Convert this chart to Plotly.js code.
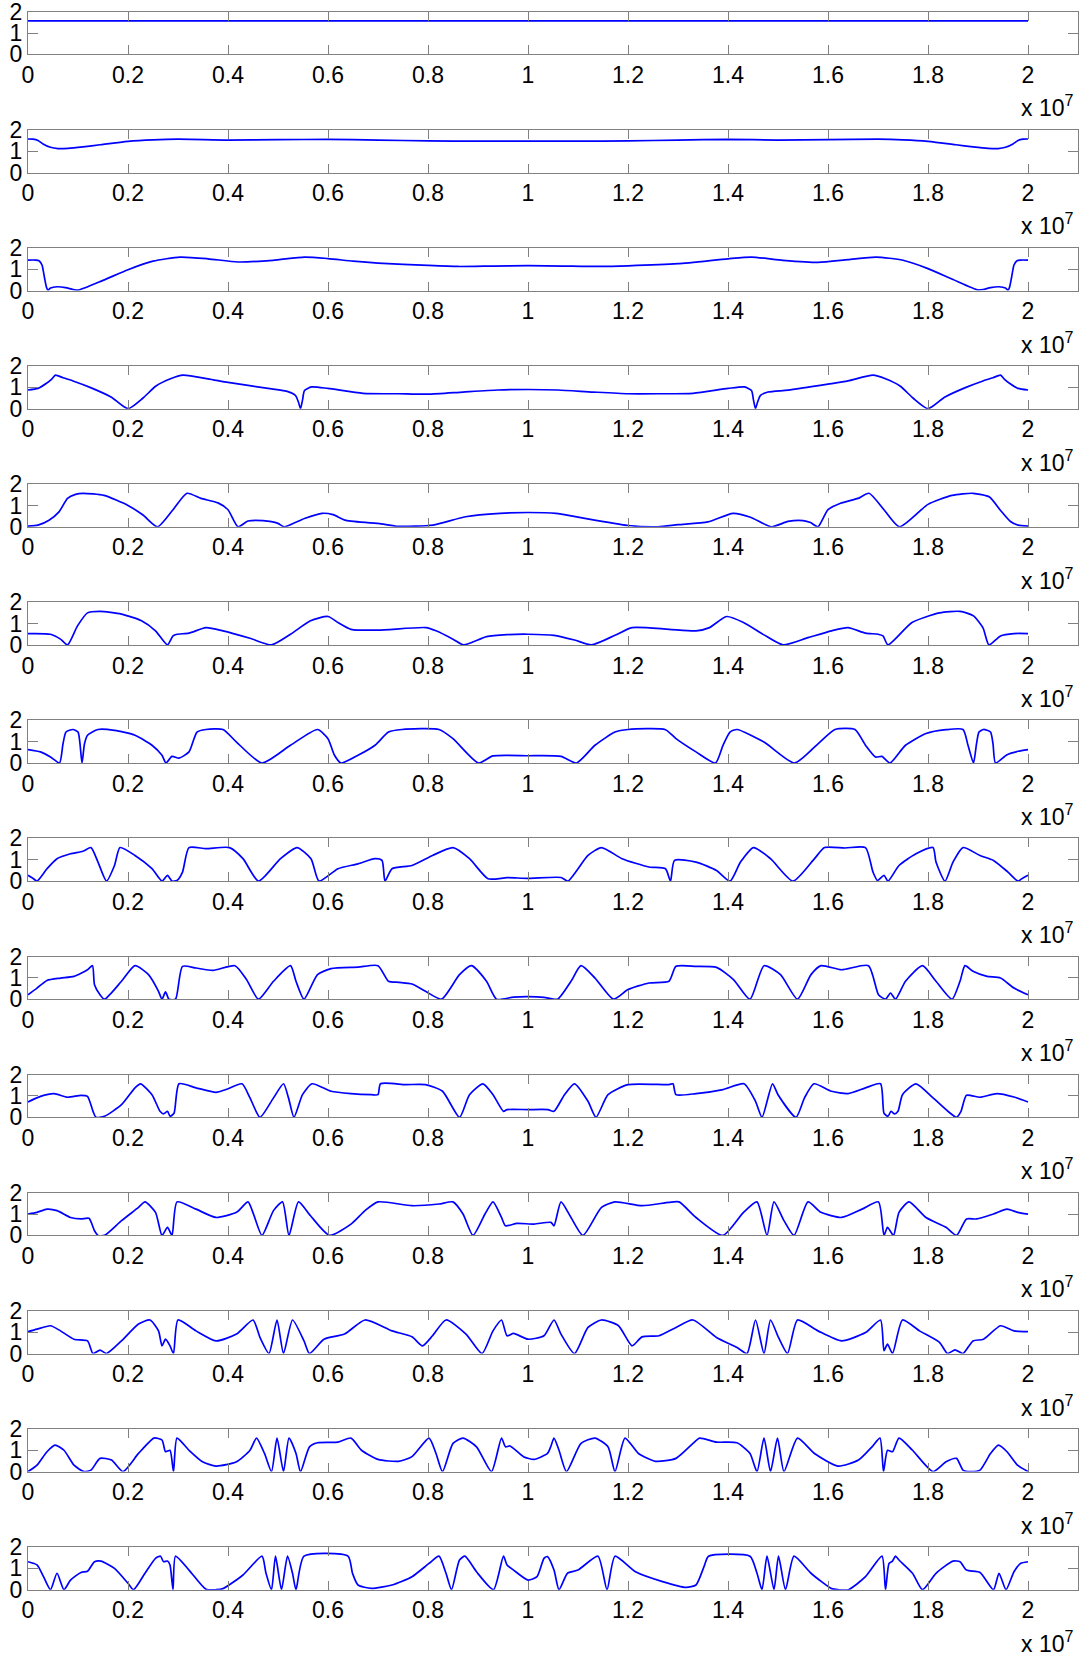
<!DOCTYPE html>
<html>
<head>
<meta charset="utf-8">
<script src="https://cdn.plot.ly/plotly-3.0.1.min.js"></script>
<style>html,body{margin:0;padding:0;background:#fff;}#chart{width:1086px;height:1659px;}</style>
</head>
<body>
<div id="chart"></div>
<script>
// x values in units of 1e7 (axis label "x 10^7"), y values
const xTickVals = [0, 0.2, 0.4, 0.6, 0.8, 1, 1.2, 1.4, 1.6, 1.8, 2];
const xTickText = ["0", "0.2", "0.4", "0.6", "0.8", "1", "1.2", "1.4", "1.6", "1.8", "2"];
const yTickVals = [0, 1, 2];
const yTickText = ["0", "1", "2"];
const xExponentLabel = "x 10<sup>7</sup>";

const panel1 = [[0,1.57],[0.5,1.57],[1.0,1.57],[1.5,1.57],[2.0,1.57]];

const panel2 = [[0,1.57],[0.01,1.56],[0.02,1.50],[0.03,1.34],[0.045,1.18],[0.06,1.12],[0.08,1.13],[0.11,1.20],[0.144,1.30],[0.2,1.46],[0.25,1.53],[0.3,1.56],[0.4,1.52],[0.5,1.54],[0.6,1.55],[0.7,1.52],[0.8,1.48],[0.9,1.47],[1.0,1.47],[1.1,1.47],[1.2,1.48],[1.3,1.52],[1.4,1.55],[1.5,1.52],[1.6,1.54],[1.7,1.56],[1.75,1.53],[1.8,1.46],[1.856,1.30],[1.89,1.20],[1.92,1.13],[1.94,1.12],[1.955,1.18],[1.97,1.34],[1.98,1.50],[1.99,1.56],[2.0,1.57]];

const panel3 = [[0,1.43],[0.015,1.43],[0.022,1.40],[0.028,1.20],[0.033,0.6],[0.037,0.15],[0.04,0.02],[0.045,0.12],[0.058,0.18],[0.075,0.14],[0.09,0.05],[0.1,0.02],[0.15,0.48],[0.2,0.98],[0.25,1.38],[0.304,1.57],[0.36,1.49],[0.42,1.34],[0.49,1.42],[0.553,1.57],[0.6,1.50],[0.65,1.38],[0.7,1.29],[0.8,1.18],[0.86,1.13],[0.93,1.15],[1.0,1.17],[1.07,1.15],[1.14,1.13],[1.2,1.16],[1.3,1.26],[1.4,1.49],[1.447,1.57],[1.51,1.42],[1.58,1.32],[1.64,1.45],[1.696,1.57],[1.75,1.42],[1.8,1.03],[1.85,0.52],[1.9,0.03],[1.91,0.05],[1.925,0.14],[1.942,0.18],[1.955,0.12],[1.96,0.02],[1.963,0.15],[1.967,0.6],[1.972,1.20],[1.978,1.40],[1.985,1.43],[2.0,1.43]];

const panel4 = [[0,0.875],[0.02,0.95],[0.037,1.19],[0.048,1.40],[0.055,1.57],[0.07,1.45],[0.09,1.30],[0.124,1.0],[0.166,0.55],[0.2,0],[0.23,0.5],[0.256,1.06],[0.285,1.40],[0.31,1.57],[0.36,1.40],[0.40,1.23],[0.48,0.95],[0.52,0.80],[0.535,0.62],[0.541,0.3],[0.545,0],[0.549,0.4],[0.553,0.85],[0.567,1.02],[0.6,0.95],[0.67,0.72],[0.74,0.70],[0.80,0.68],[0.87,0.78],[0.94,0.875],[1.0,0.9],[1.06,0.875],[1.13,0.78],[1.2,0.70],[1.26,0.70],[1.33,0.72],[1.40,0.95],[1.433,1.02],[1.447,0.85],[1.451,0.4],[1.455,0],[1.459,0.3],[1.465,0.62],[1.48,0.78],[1.52,0.87],[1.6,1.15],[1.64,1.30],[1.69,1.57],[1.715,1.40],[1.744,1.06],[1.77,0.5],[1.8,0],[1.834,0.55],[1.876,1.0],[1.91,1.30],[1.93,1.45],[1.945,1.57],[1.952,1.40],[1.963,1.19],[1.98,0.95],[2.0,0.875]];

const panel5 = [[0,0.03],[0.02,0.08],[0.042,0.31],[0.062,0.7],[0.079,1.33],[0.095,1.52],[0.11,1.57],[0.152,1.47],[0.2,1.0],[0.23,0.55],[0.259,0],[0.29,0.8],[0.318,1.57],[0.346,1.33],[0.38,1.12],[0.40,0.8],[0.42,0],[0.44,0.27],[0.47,0.29],[0.5,0.16],[0.512,0],[0.553,0.39],[0.588,0.63],[0.61,0.57],[0.636,0.3],[0.706,0.14],[0.74,0.02],[0.81,0.08],[0.875,0.47],[0.944,0.63],[1.0,0.67],[1.056,0.63],[1.1,0.45],[1.2,0.06],[1.26,0],[1.3,0.1],[1.36,0.23],[1.41,0.63],[1.445,0.45],[1.487,0],[1.52,0.25],[1.55,0.29],[1.565,0.2],[1.58,0],[1.6,0.8],[1.625,1.1],[1.66,1.33],[1.682,1.57],[1.712,0.8],[1.743,0],[1.8,1.05],[1.848,1.47],[1.89,1.57],[1.923,1.4],[1.944,0.8],[1.965,0.25],[1.98,0.08],[2.0,0.03]];

const panel6 = [[0,0.53],[0.045,0.5],[0.065,0.27],[0.079,0],[0.099,0.89],[0.119,1.5],[0.144,1.57],[0.187,1.44],[0.227,1.13],[0.255,0.66],[0.279,0],[0.29,0.42],[0.298,0.5],[0.322,0.55],[0.356,0.81],[0.39,0.66],[0.444,0.31],[0.487,0],[0.525,0.5],[0.565,1.13],[0.6,1.33],[0.62,1.05],[0.646,0.73],[0.7,0.69],[0.796,0.81],[0.816,0.66],[0.85,0.27],[0.871,0],[0.917,0.39],[0.958,0.48],[1.0,0.5],[1.052,0.45],[1.093,0.23],[1.127,0],[1.174,0.45],[1.208,0.81],[1.282,0.73],[1.336,0.66],[1.363,0.81],[1.397,1.33],[1.431,1.05],[1.472,0.47],[1.51,0],[1.56,0.34],[1.607,0.66],[1.64,0.81],[1.675,0.55],[1.7,0.5],[1.71,0.42],[1.72,0],[1.768,1.05],[1.823,1.5],[1.864,1.57],[1.891,1.36],[1.91,0.8],[1.922,0],[1.945,0.42],[1.972,0.53],[2.0,0.53]];

const panel7 = [[0,0.63],[0.025,0.52],[0.045,0.28],[0.063,0],[0.07,0.9],[0.076,1.45],[0.09,1.57],[0.1,1.45],[0.104,0.9],[0.108,0],[0.113,0.9],[0.119,1.3],[0.14,1.57],[0.173,1.53],[0.214,1.3],[0.248,0.83],[0.268,0.36],[0.276,0],[0.288,0.31],[0.302,0.23],[0.322,0.52],[0.338,1.45],[0.356,1.57],[0.39,1.57],[0.417,0.98],[0.468,0],[0.525,0.83],[0.579,1.57],[0.6,1.14],[0.613,0.36],[0.626,0],[0.66,0.36],[0.694,0.83],[0.721,1.45],[0.748,1.57],[0.822,1.57],[0.85,1.14],[0.901,0],[0.93,0.33],[1.0,0.34],[1.066,0.31],[1.097,0],[1.134,0.83],[1.174,1.45],[1.2,1.57],[1.275,1.56],[1.296,1.14],[1.336,0.52],[1.375,0],[1.39,0.83],[1.404,1.45],[1.418,1.57],[1.472,0.98],[1.533,0],[1.58,0.9],[1.614,1.57],[1.654,1.57],[1.675,0.83],[1.695,0.28],[1.708,0.31],[1.724,0],[1.755,0.83],[1.796,1.38],[1.836,1.56],[1.87,1.57],[1.88,0.83],[1.891,0],[1.897,0.9],[1.902,1.45],[1.911,1.57],[1.925,1.45],[1.93,0.9],[1.935,0],[1.958,0.39],[1.98,0.55],[2.0,0.63]];

const panel8 = [[0,0.27],[0.011,0.11],[0.018,0],[0.038,0.58],[0.058,1.05],[0.085,1.28],[0.11,1.4],[0.126,1.57],[0.14,0.89],[0.157,0],[0.173,0.73],[0.184,1.57],[0.214,1.2],[0.248,0.58],[0.268,0],[0.279,0.27],[0.288,0],[0.298,0.03],[0.309,0.42],[0.322,1.57],[0.356,1.52],[0.403,1.57],[0.43,1.05],[0.461,0],[0.505,1.05],[0.538,1.57],[0.566,1.05],[0.582,0],[0.62,0.58],[0.66,0.81],[0.694,1.05],[0.708,0.97],[0.714,0],[0.728,0.58],[0.768,0.73],[0.809,1.2],[0.85,1.57],[0.883,1.05],[0.92,0.11],[0.958,0.16],[1.0,0.13],[1.066,0.17],[1.08,0],[1.12,1.2],[1.147,1.57],[1.188,1.05],[1.242,0.66],[1.275,0.58],[1.285,0],[1.293,0.97],[1.336,0.89],[1.377,0.5],[1.404,0],[1.425,0.89],[1.451,1.57],[1.485,1.05],[1.53,0],[1.573,1.05],[1.593,1.57],[1.634,1.55],[1.675,1.57],[1.69,0.42],[1.699,0.03],[1.712,0.27],[1.72,0],[1.742,0.73],[1.776,1.28],[1.81,1.57],[1.816,0.89],[1.834,0],[1.85,0.89],[1.87,1.57],[1.904,1.2],[1.931,0.97],[1.96,0.42],[1.98,0],[1.99,0.15],[2.0,0.27]];

const panel9 = [[0,0.21],[0.018,0.52],[0.038,0.88],[0.065,0.99],[0.092,1.07],[0.119,1.38],[0.129,1.57],[0.133,0.68],[0.144,0.21],[0.153,0],[0.187,0.84],[0.214,1.57],[0.241,1.15],[0.261,0.37],[0.268,0],[0.275,0.34],[0.282,0],[0.295,0],[0.309,1.54],[0.336,1.46],[0.37,1.35],[0.414,1.57],[0.437,0.92],[0.461,0],[0.491,0.84],[0.525,1.57],[0.536,0.84],[0.552,0],[0.579,1.15],[0.606,1.43],[0.66,1.5],[0.7,1.57],[0.721,0.84],[0.742,0.79],[0.768,0.71],[0.795,0.37],[0.827,0],[0.863,1.15],[0.887,1.57],[0.917,0.84],[0.937,0],[0.971,0.1],[1.0,0.12],[1.032,0.09],[1.059,0],[1.086,0.84],[1.106,1.57],[1.134,0.99],[1.171,0],[1.2,0.45],[1.242,0.76],[1.282,0.84],[1.296,1.54],[1.336,1.54],[1.377,1.49],[1.411,0.92],[1.444,0],[1.472,1.57],[1.505,1.15],[1.539,0],[1.566,1.15],[1.586,1.57],[1.627,1.38],[1.681,1.57],[1.701,0.21],[1.715,0],[1.725,0.29],[1.735,0],[1.755,0.84],[1.789,1.57],[1.816,0.84],[1.848,0],[1.864,0.84],[1.874,1.57],[1.89,1.31],[1.918,1.07],[1.945,0.99],[1.972,0.52],[2.0,0.21]];

const panel10 = [[0,0.72],[0.025,0.98],[0.052,1.11],[0.079,0.94],[0.106,1.03],[0.119,0.98],[0.13,0.28],[0.136,0],[0.153,0.05],[0.187,0.59],[0.214,1.38],[0.225,1.57],[0.248,1.06],[0.264,0.28],[0.271,0.16],[0.279,0.28],[0.284,0.05],[0.292,0.19],[0.302,1.57],[0.336,1.38],[0.376,1.17],[0.396,1.3],[0.428,1.57],[0.444,0.91],[0.464,0],[0.491,0.91],[0.511,1.57],[0.521,0.91],[0.532,0],[0.549,1.06],[0.568,1.57],[0.606,1.22],[0.646,1.11],[0.687,1.06],[0.7,1.06],[0.705,1.57],[0.755,1.53],[0.795,1.53],[0.829,1.22],[0.863,0],[0.883,1.06],[0.91,1.57],[0.93,1.06],[0.951,0.28],[0.958,0.36],[1.0,0.36],[1.04,0.36],[1.052,0.28],[1.073,1.06],[1.093,1.57],[1.12,0.75],[1.136,0],[1.16,1.06],[1.2,1.53],[1.282,1.53],[1.29,1.57],[1.296,1.06],[1.336,1.11],[1.39,1.3],[1.432,1.57],[1.455,0.75],[1.468,0],[1.489,1.57],[1.5,1.06],[1.536,0],[1.553,0.91],[1.572,1.57],[1.607,1.22],[1.64,1.11],[1.675,1.38],[1.705,1.57],[1.712,0.19],[1.72,0.05],[1.726,0.28],[1.733,0.16],[1.74,0.28],[1.749,1.06],[1.776,1.57],[1.81,0.91],[1.844,0.2],[1.857,0],[1.866,0.28],[1.877,1.03],[1.904,0.94],[1.938,1.11],[1.972,0.95],[2.0,0.72]];

const panel11 = [[0,1.0],[0.018,1.08],[0.038,1.23],[0.058,1.16],[0.085,0.84],[0.106,0.77],[0.122,0.8],[0.133,0.22],[0.14,0],[0.153,0],[0.187,0.69],[0.221,1.31],[0.234,1.57],[0.255,1.08],[0.268,0],[0.279,0.38],[0.288,0],[0.298,1.57],[0.336,1.23],[0.376,0.84],[0.417,1.08],[0.44,1.57],[0.451,1.0],[0.468,0],[0.491,1.16],[0.509,1.57],[0.522,0],[0.541,1.57],[0.565,0.92],[0.603,0],[0.646,0.53],[0.674,1.16],[0.7,1.57],[0.768,1.39],[0.822,1.47],[0.85,1.57],[0.87,1.0],[0.89,0],[0.914,1.0],[0.93,1.57],[0.947,0.84],[0.955,0.45],[0.978,0.56],[1.012,0.53],[1.046,0.61],[1.052,0.45],[1.066,1.57],[1.086,0.84],[1.11,0],[1.147,1.31],[1.174,1.57],[1.228,1.39],[1.282,1.55],[1.302,1.57],[1.336,0.84],[1.39,0],[1.431,1.08],[1.458,1.57],[1.478,0],[1.492,1.57],[1.512,0.69],[1.532,0],[1.56,1.57],[1.586,1.08],[1.627,0.84],[1.668,1.23],[1.701,1.57],[1.712,0],[1.719,0.38],[1.731,0],[1.742,1.08],[1.762,1.57],[1.796,0.84],[1.836,0.38],[1.857,0],[1.877,0.77],[1.897,0.77],[1.931,1.0],[1.958,1.23],[1.979,1.08],[2.0,1.0]];

const panel12 = [[0,1.02],[0.018,1.14],[0.045,1.3],[0.065,1.06],[0.092,0.67],[0.119,0.59],[0.13,0],[0.144,0.16],[0.157,0],[0.187,0.59],[0.221,1.38],[0.244,1.57],[0.261,1.06],[0.268,0.36],[0.275,0.67],[0.284,0.36],[0.291,0],[0.3,1.57],[0.336,1.06],[0.376,0.59],[0.417,0.91],[0.45,1.57],[0.464,0.75],[0.482,0],[0.498,1.57],[0.511,0],[0.529,1.57],[0.552,0.59],[0.563,0],[0.592,0.67],[0.633,0.91],[0.674,1.57],[0.728,1.06],[0.768,0.78],[0.789,0.36],[0.809,0.83],[0.836,1.57],[0.876,0.91],[0.908,0],[0.93,1.06],[0.947,1.57],[0.958,0.83],[0.971,0.94],[1.0,0.67],[1.032,0.83],[1.052,1.57],[1.066,0.91],[1.093,0],[1.12,1.22],[1.147,1.57],[1.181,1.3],[1.208,0.36],[1.228,0.78],[1.262,0.83],[1.296,1.22],[1.33,1.57],[1.377,0.75],[1.418,0.28],[1.438,0],[1.455,1.57],[1.472,0],[1.485,1.57],[1.501,0.75],[1.519,0],[1.539,1.57],[1.58,1.06],[1.627,0.59],[1.675,0.98],[1.705,1.57],[1.712,0.13],[1.719,0.44],[1.729,0],[1.749,1.57],[1.783,1.06],[1.823,0.52],[1.839,0],[1.854,0.17],[1.87,0],[1.89,0.59],[1.911,0.67],[1.945,1.3],[1.972,1.06],[2.0,1.02]];

const panel13 = [[0,0],[0.018,0.3],[0.038,0.93],[0.054,1.24],[0.072,1.0],[0.092,0.3],[0.112,0],[0.126,0.07],[0.144,0.62],[0.167,0.54],[0.19,0],[0.221,0.85],[0.252,1.57],[0.268,1.48],[0.275,0.93],[0.284,1.0],[0.291,0],[0.298,1.57],[0.322,1.0],[0.349,0.46],[0.376,0.26],[0.417,0.46],[0.444,1.0],[0.457,1.57],[0.473,0.85],[0.487,0],[0.498,1.57],[0.511,0],[0.522,1.57],[0.536,0.85],[0.545,0],[0.563,1.16],[0.579,1.35],[0.62,1.38],[0.646,1.57],[0.667,1.0],[0.7,0.57],[0.741,0.48],[0.768,0.7],[0.802,1.57],[0.816,0.85],[0.829,0],[0.85,1.32],[0.87,1.57],[0.897,1.16],[0.927,0],[0.947,1.57],[0.955,1.16],[0.964,1.2],[0.991,0.7],[1.012,0.57],[1.039,0.85],[1.046,1.2],[1.052,1.57],[1.062,1.0],[1.077,0],[1.106,1.32],[1.134,1.57],[1.16,1.16],[1.174,0],[1.194,1.57],[1.221,0.85],[1.255,0.48],[1.296,0.62],[1.33,1.32],[1.343,1.57],[1.377,1.38],[1.418,1.35],[1.444,0.85],[1.458,0],[1.472,1.57],[1.485,0],[1.499,1.57],[1.512,0],[1.539,1.57],[1.573,0.85],[1.62,0.26],[1.661,0.54],[1.688,1.16],[1.704,1.57],[1.711,0],[1.719,1.0],[1.729,0.93],[1.742,1.57],[1.769,1.0],[1.81,0],[1.836,0.46],[1.857,0.62],[1.87,0.07],[1.884,0],[1.904,0.07],[1.925,0.85],[1.941,1.24],[1.958,0.93],[1.979,0.3],[2.0,0]];

const panel14 = [[0,1.31],[0.018,1.16],[0.031,0.61],[0.045,0],[0.058,0.77],[0.072,0],[0.085,0.45],[0.106,0.81],[0.119,0.86],[0.133,1.31],[0.146,1.34],[0.173,1.0],[0.2,0.3],[0.211,0],[0.234,0.77],[0.255,1.47],[0.265,1.57],[0.271,1.31],[0.279,1.34],[0.284,1.16],[0.29,0],[0.295,1.57],[0.322,0.92],[0.356,0.02],[0.376,0],[0.39,0.05],[0.43,0.69],[0.468,1.57],[0.476,0.77],[0.487,0],[0.495,1.57],[0.507,0],[0.519,1.57],[0.529,0.77],[0.536,0],[0.552,1.57],[0.64,1.57],[0.649,0.77],[0.66,0.22],[0.687,0.06],[0.728,0.22],[0.768,0.61],[0.802,1.23],[0.822,1.57],[0.836,0.77],[0.847,0],[0.863,1.39],[0.874,1.57],[0.897,0.84],[0.931,0],[0.951,1.57],[0.958,1.16],[0.971,0.92],[1.0,0.45],[1.018,0.61],[1.032,1.47],[1.039,1.55],[1.052,0.92],[1.062,0],[1.079,0.77],[1.1,0.92],[1.14,1.57],[1.158,0],[1.174,1.57],[1.215,0.84],[1.269,0.38],[1.316,0.11],[1.336,0.22],[1.352,1.08],[1.361,1.57],[1.444,1.57],[1.458,0.77],[1.468,0],[1.478,1.57],[1.492,0],[1.501,1.57],[1.515,0],[1.532,1.57],[1.566,0.77],[1.607,0.05],[1.62,0],[1.641,0],[1.675,0.61],[1.708,1.57],[1.715,0],[1.722,1.23],[1.729,1.34],[1.735,1.57],[1.742,1.39],[1.769,0.77],[1.789,0],[1.816,0.77],[1.85,1.34],[1.864,1.31],[1.877,0.92],[1.904,0.81],[1.931,0],[1.942,0.77],[1.956,0],[1.972,0.84],[1.985,1.23],[2.0,1.31]];

const panels = [panel1, panel2, panel3, panel4, panel5, panel6, panel7, panel8, panel9, panel10, panel11, panel12, panel13, panel14];

// ---- layout geometry (pixels) ----
const W = 1086, H = 1659;
const firstTop = 11.7, step = 118.1, boxH = 42.7;
const axisColor = '#808080';
const font = {family: '"Liberation Sans", Arial, Helvetica, sans-serif', size: 23, color: '#000'};

const data = [];
const layout = {
  width: W, height: H,
  margin: {l: 28, r: 8, t: 0, b: 0, pad: 0},
  paper_bgcolor: '#fff', plot_bgcolor: '#fff',
  showlegend: false,
  font: font,
  annotations: []
};

panels.forEach((p, i) => {
  const n = i + 1;
  const xa = n === 1 ? 'x' : 'x' + n;
  const ya = n === 1 ? 'y' : 'y' + n;
  data.push({
    x: p.map(d => d[0]),
    y: p.map(d => d[1]),
    xaxis: xa, yaxis: ya,
    type: 'scatter', mode: 'lines',
    line: {color: 'rgb(0,0,255)', width: 1.7, shape: 'spline', smoothing: 0.6},
    hoverinfo: 'skip'
  });
  const top = firstTop + i * step;
  const bottom = top + boxH;
  const xKey = n === 1 ? 'xaxis' : 'xaxis' + n;
  const yKey = n === 1 ? 'yaxis' : 'yaxis' + n;
  layout[xKey] = {
    domain: [0, 1], anchor: ya, range: [0, 2.1],
    tickmode: 'array', tickvals: xTickVals, ticktext: xTickText,
    ticks: 'inside', ticklen: 9, tickwidth: 1, tickcolor: axisColor,
    showline: true, linecolor: axisColor, linewidth: 1, mirror: 'ticks',
    showgrid: false, zeroline: false, fixedrange: true,
    ticklabeloverflow: 'allow',
    tickfont: font
  };
  layout[yKey] = {
    domain: [1 - bottom / H, 1 - top / H], anchor: xa, range: [0, 2],
    tickmode: 'array', tickvals: yTickVals, ticktext: yTickText,
    ticks: 'inside', ticklen: 10, tickwidth: 1, tickcolor: axisColor,
    showline: true, linecolor: axisColor, linewidth: 1, mirror: 'ticks',
    showgrid: false, zeroline: false, fixedrange: true,
    ticklabeloverflow: 'allow',
    tickfont: font
  };
  layout.annotations.push({
    xref: 'paper', yref: 'paper',
    x: (1075 - 28) / 1050, y: 1 - (bottom + 52) / H,
    xanchor: 'right', yanchor: 'middle',
    text: xExponentLabel, showarrow: false, font: font
  });
});

Plotly.newPlot('chart', data, layout, {staticPlot: true, displayModeBar: false});
</script>
</body>
</html>
